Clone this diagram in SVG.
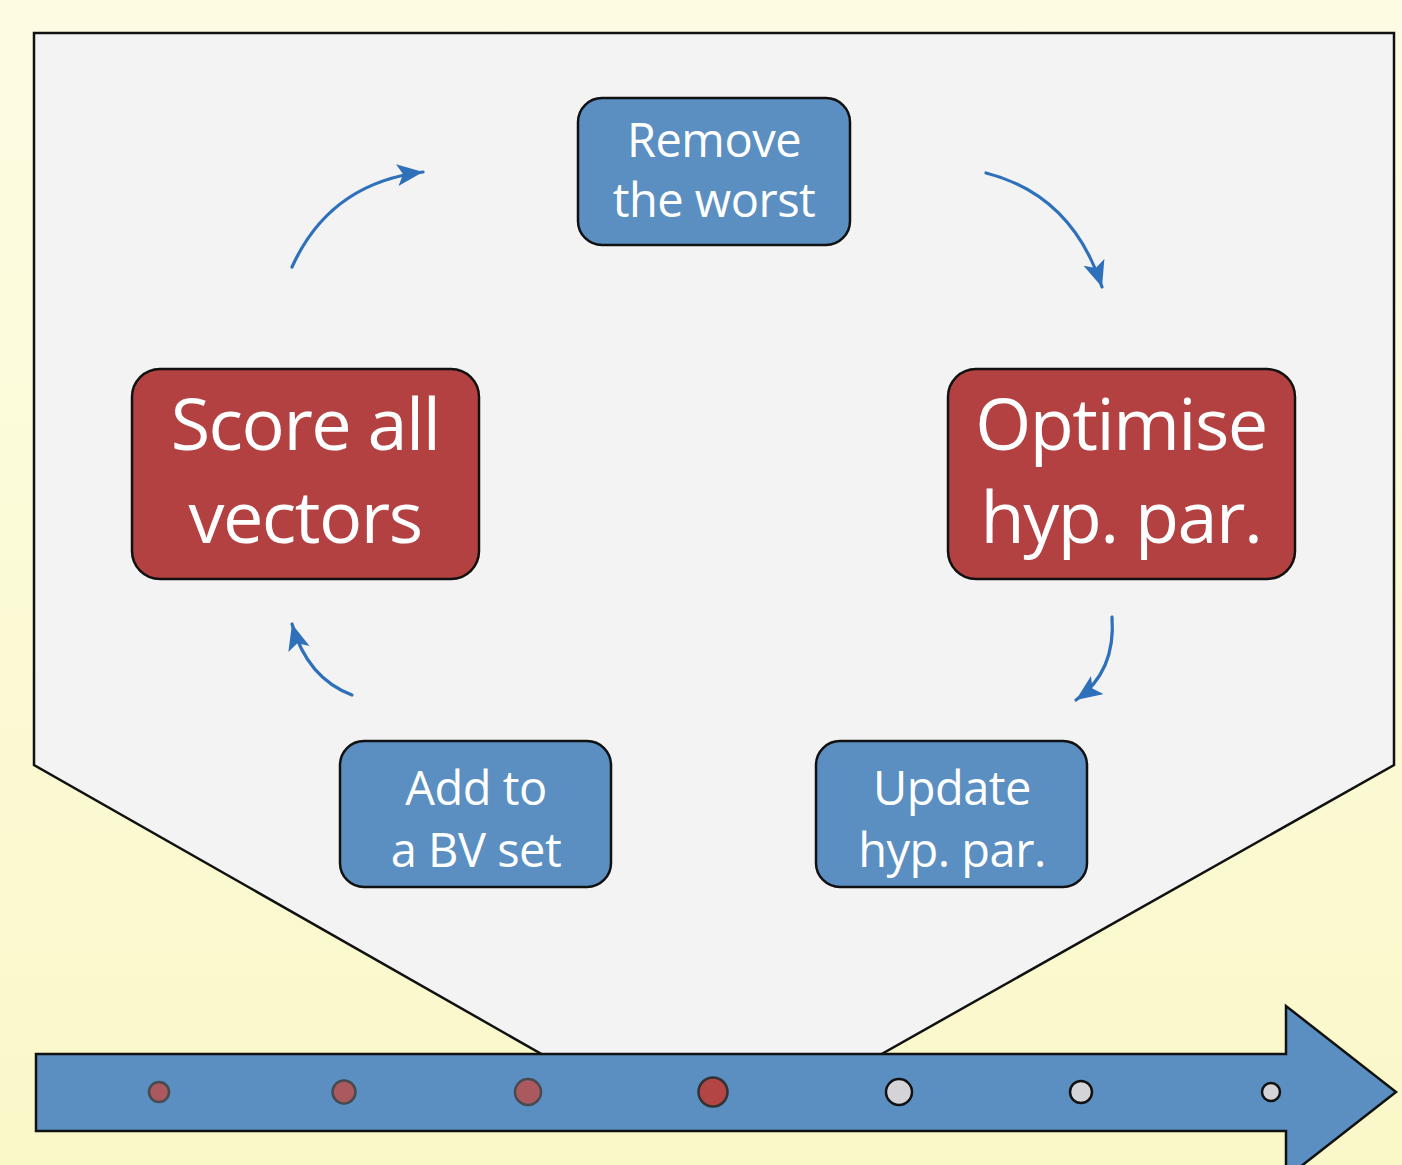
<svg xmlns="http://www.w3.org/2000/svg" width="1402" height="1165" viewBox="0 0 1402 1165">
<defs>
<linearGradient id="bg" x1="0" y1="0" x2="0" y2="1">
<stop offset="0" stop-color="#fdfce3"/>
<stop offset="1" stop-color="#faf8c9"/>
</linearGradient>
<marker id="ah" markerUnits="userSpaceOnUse" markerWidth="32" markerHeight="32" refX="26" refY="11" orient="auto">
<path d="M0,0 L26,11 L0,22 L6,11 Z" fill="#2e70b9"/>
</marker>
<style>
.blue{fill:#5b8fc1;stroke:#111;stroke-width:2.5}
.red{fill:#b34141;stroke:#111;stroke-width:2.5}
.t{font-family:"Open Sans","Noto Sans",sans-serif;fill:#fff;text-anchor:middle}
.s{font-size:47px;letter-spacing:-0.5px}
.b{font-size:72px;letter-spacing:-1.5px}
.c{fill:none;stroke:#2e70b9;stroke-width:3.2;stroke-linecap:round;marker-end:url(#ah)}
.dr{fill:#b34545;stroke:#333;stroke-width:2.5}
.dl{fill:#b35555;stroke:#444;stroke-width:2.5;opacity:0.9}
.dg{fill:#d4d4d8;stroke:#111;stroke-width:2.5}
</style>
</defs>
<rect width="1402" height="1165" fill="url(#bg)"/>
<polygon points="34,33 1394,33 1394,765 871,1060 552,1060 34,765" fill="#f3f3f3" stroke="#111" stroke-width="2.5"/>
<g id="timeline">
<polygon points="36,1054 1286,1054 1286,1006 1396,1092 1286,1178 1286,1131 36,1131" fill="#5b8fc1" stroke="#111" stroke-width="2.5"/>
<circle class="dl" cx="159" cy="1092" r="10"/>
<circle class="dl" cx="344" cy="1092" r="11.5"/>
<circle class="dl" cx="528" cy="1092" r="13"/>
<circle class="dr" cx="713" cy="1092" r="14.5"/>
<circle class="dg" cx="899" cy="1092" r="13"/>
<circle class="dg" cx="1081" cy="1092" r="11"/>
<circle class="dg" cx="1271" cy="1092" r="9"/>
</g>
<g id="connectors">
<path class="c" d="M292,267 Q330,183 423,172"/>
<path class="c" d="M986,173 Q1072,195 1102,287"/>
<path class="c" d="M1112,617 Q1116,672 1076,700"/>
<path class="c" d="M352,695 Q307,678 292,624"/>
</g>
<g id="remove">
<rect class="blue" x="578" y="98" width="272" height="147" rx="24"/>
<text class="t s" x="714" y="157">Remove</text>
<text class="t s" x="714" y="217">the worst</text>
</g>
<g id="score">
<rect class="red" x="132" y="369" width="347" height="210" rx="28"/>
<text class="t b" x="305" y="450">Score all</text>
<text class="t b" x="305" y="543">vectors</text>
</g>
<g id="optimise">
<rect class="red" x="948" y="369" width="347" height="210" rx="28"/>
<text class="t b" x="1121" y="450">Optimise</text>
<text class="t b" x="1121" y="543">hyp. par.</text>
</g>
<g id="add">
<rect class="blue" x="340" y="741" width="271" height="146" rx="24"/>
<text class="t s" x="476" y="805">Add to</text>
<text class="t s" x="476" y="867">a BV set</text>
</g>
<g id="update">
<rect class="blue" x="816" y="741" width="271" height="146" rx="24"/>
<text class="t s" x="952" y="805">Update</text>
<text class="t s" x="952" y="867">hyp. par.</text>
</g>
</svg>
